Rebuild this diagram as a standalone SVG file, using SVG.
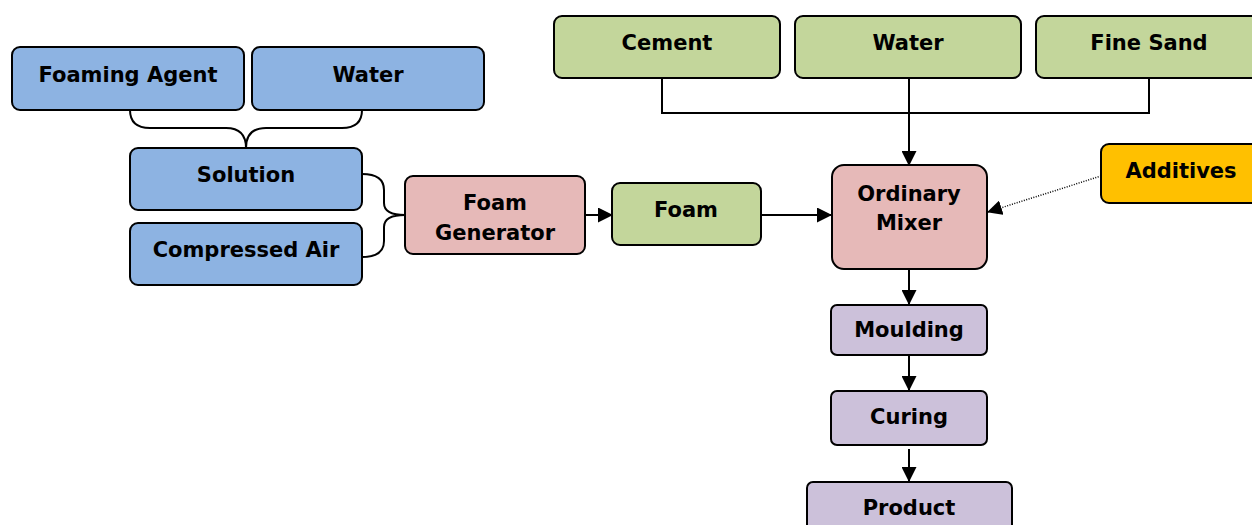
<svg xmlns="http://www.w3.org/2000/svg" width="1252" height="525" viewBox="0 0 1252 525">
  <style>
    .box { stroke: #000; stroke-width: 2; }
    .blue { fill: #8DB3E2; }
    .green { fill: #C3D69B; }
    .pink { fill: #E6B9B8; }
    .orange { fill: #FFC000; }
    .purple { fill: #CCC1DA; }
    text { font-family: "DejaVu Sans", Verdana, sans-serif; font-weight: bold; font-size: 21px; fill: #000; text-anchor: middle; }
    .line { fill: none; stroke: #000; stroke-width: 2; }
    .dot { fill: none; stroke: #000; stroke-width: 1.5; stroke-dasharray: 1 1.5; }
  </style>
  <defs>
    <marker id="arrowBig" markerWidth="15" markerHeight="15" refX="14" refY="7.5" orient="auto" markerUnits="userSpaceOnUse" viewBox="0 0 15 15">
      <path d="M0,0 L15,7.5 L0,15 Z" fill="#000"/>
    </marker>
  </defs>

  <!-- connectors -->
  <g id="connectors">
    <!-- brace: foaming agent + water into solution -->
    <path class="line" d="M130,110 Q130,128 150,128 L226,128 Q246,128 246,148 Q246,128 266,128 L342,128 Q362,128 362,110"/>
    <!-- brace: solution + compressed air into foam generator -->
    <path class="line" d="M362,174 Q384,174 384,190 L384,203 Q384,215 405,215 Q384,215 384,227 L384,241 Q384,257 362,257"/>
    <line class="line" x1="586" y1="215" x2="612" y2="215" marker-end="url(#arrowBig)"/>
    <line class="line" x1="761" y1="215" x2="831" y2="215" marker-end="url(#arrowBig)"/>
    <!-- raw materials header -->
    <path class="line" d="M662,78 L662,113 L1149,113 L1149,78"/>
    <line class="line" x1="909" y1="78" x2="909" y2="165" marker-end="url(#arrowBig)"/>
    <line class="dot" x1="1101" y1="176" x2="988" y2="212" marker-end="url(#arrowBig)"/>
    <line class="line" x1="909" y1="269" x2="909" y2="304" marker-end="url(#arrowBig)"/>
    <line class="line" x1="909" y1="355" x2="909" y2="390" marker-end="url(#arrowBig)"/>
    <line class="line" x1="909" y1="449" x2="909" y2="481" marker-end="url(#arrowBig)"/>
  </g>

  <g id="foaming-agent">
    <rect class="box blue" x="12" y="47" width="232" height="63" rx="8"/>
    <text x="128" y="82">Foaming Agent</text>
  </g>
  <g id="water-solution">
    <rect class="box blue" x="252" y="47" width="232" height="63" rx="8"/>
    <text x="368" y="82">Water</text>
  </g>
  <g id="solution">
    <rect class="box blue" x="130" y="148" width="232" height="62" rx="8"/>
    <text x="246" y="182">Solution</text>
  </g>
  <g id="compressed-air">
    <rect class="box blue" x="130" y="223" width="232" height="62" rx="8"/>
    <text x="246" y="257">Compressed Air</text>
  </g>
  <g id="foam-generator">
    <rect class="box pink" x="405" y="176" width="180" height="78" rx="8"/>
    <text x="495" y="210">Foam</text>
    <text x="495" y="240">Generator</text>
  </g>
  <g id="foam">
    <rect class="box green" x="612" y="183" width="149" height="62" rx="8"/>
    <text x="686" y="217">Foam</text>
  </g>
  <g id="cement">
    <rect class="box green" x="554" y="16" width="226" height="62" rx="8"/>
    <text x="667" y="50">Cement</text>
  </g>
  <g id="water-mix">
    <rect class="box green" x="795" y="16" width="226" height="62" rx="8"/>
    <text x="908" y="50">Water</text>
  </g>
  <g id="fine-sand">
    <rect class="box green" x="1036" y="16" width="226" height="62" rx="8"/>
    <text x="1149" y="50">Fine Sand</text>
  </g>
  <g id="additives">
    <rect class="box orange" x="1101" y="144" width="161" height="59" rx="8"/>
    <text x="1181" y="178">Additives</text>
  </g>
  <g id="ordinary-mixer">
    <rect class="box pink" x="832" y="165" width="155" height="104" rx="12"/>
    <text x="909" y="201">Ordinary</text>
    <text x="909" y="230">Mixer</text>
  </g>
  <g id="moulding">
    <rect class="box purple" x="831" y="305" width="156" height="50" rx="6"/>
    <text x="909" y="337">Moulding</text>
  </g>
  <g id="curing">
    <rect class="box purple" x="831" y="391" width="156" height="54" rx="6"/>
    <text x="909" y="424">Curing</text>
  </g>
  <g id="product">
    <rect class="box purple" x="807" y="482" width="205" height="60" rx="6"/>
    <text x="909" y="515">Product</text>
  </g>
</svg>
